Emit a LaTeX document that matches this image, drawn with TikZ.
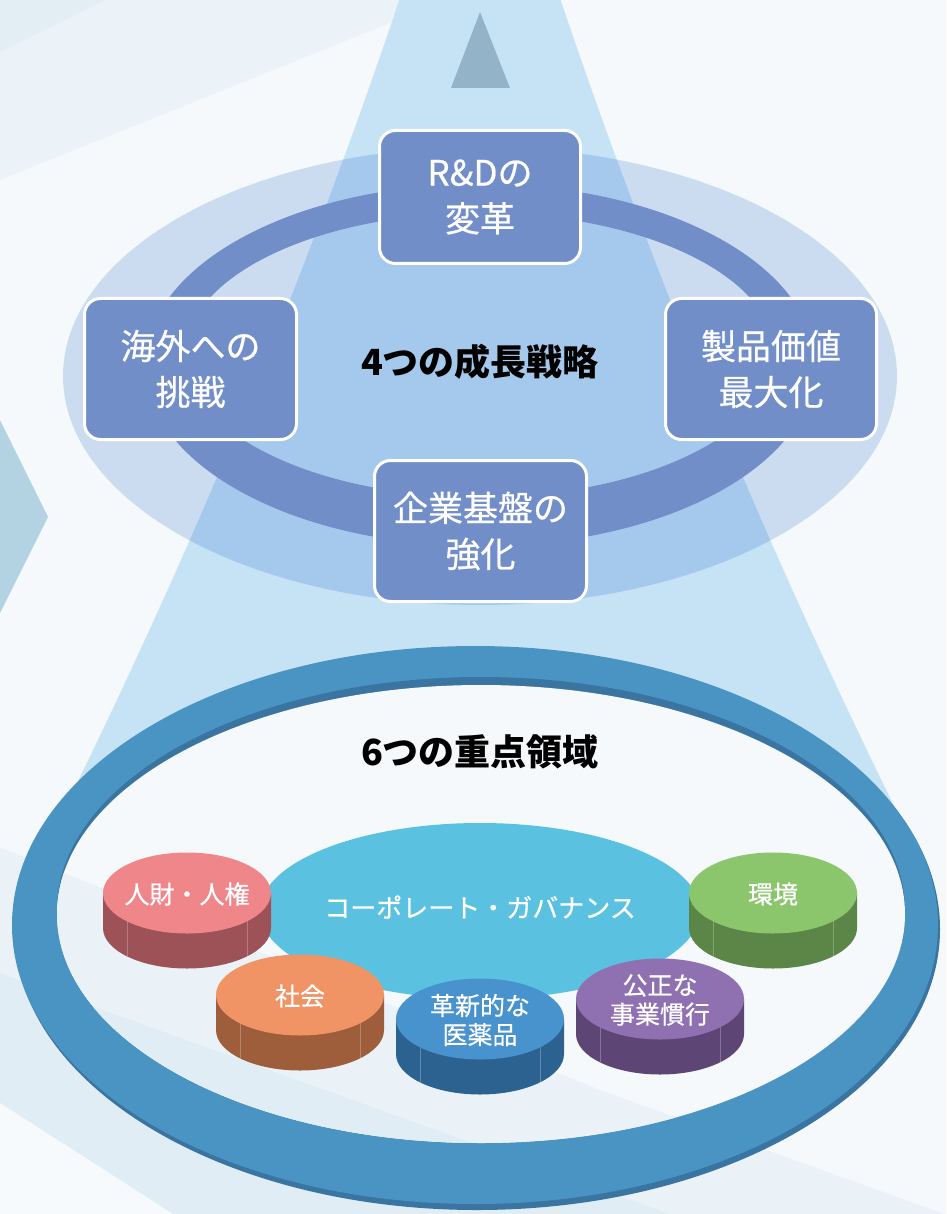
\documentclass[tikz,border=0pt]{standalone}
\usepackage{fontspec}
\setmainfont{Noto Sans CJK JP}
\newfontfamily\medjp{Noto Sans CJK JP}[FakeBold=0.6]
\definecolor{bgc}{HTML}{F5F9FC}
\definecolor{tlcorner}{HTML}{E3EEF4}
\definecolor{tlband}{HTML}{EBF3F9}
\definecolor{chev}{HTML}{B3D3E3}
\definecolor{bandone}{HTML}{EAF2F8}
\definecolor{bandtwo}{HTML}{E1EDF5}
\definecolor{bandthree}{HTML}{F6FAFD}
\definecolor{beamc}{HTML}{C6E3F6}
\definecolor{beamdark}{HTML}{A5C9EC}
\definecolor{lightell}{HTML}{CBDCF1}
\definecolor{tri}{HTML}{93B4C8}
\definecolor{boxc}{HTML}{728EC8}
\definecolor{ringb}{HTML}{4A94C4}
\definecolor{rimc}{HTML}{3A74A0}
\definecolor{cyanc}{HTML}{5BC1E0}
\definecolor{pinkt}{HTML}{EF868A}
\definecolor{pinks}{HTML}{9D5257}
\definecolor{greent}{HTML}{8CC66C}
\definecolor{greens}{HTML}{5B8648}
\definecolor{oranget}{HTML}{F09466}
\definecolor{oranges}{HTML}{9E5E3C}
\definecolor{bluet}{HTML}{4892CE}
\definecolor{blues}{HTML}{2C628F}
\definecolor{purplet}{HTML}{8F70B0}
\definecolor{purples}{HTML}{5D4675}
\newcommand\mycyl[6]{%
  \fill[#5] (#2-84,#3) -- (#2-84,#3+35) arc[start angle=180,end angle=360,x radius=84pt,y radius=40.5pt] -- (#2+84,#3) -- cycle;
  \draw[white, opacity=0.25, line width=0.6pt] (#2-60,#3+28.3) -- (#2-60,#3+63.3) (#2+60,#3+28.3) -- (#2+60,#3+63.3);
  \fill[#4] (#2,#3) ellipse [x radius=84pt, y radius=40.5pt];
  \node[cyltxt] (#1) at (#2,#3+1) {#6};
}
\begin{document}
\begin{tikzpicture}[x=1pt,y=-1pt,
  box/.style={rounded corners=16pt, draw=white, line width=3pt, fill=boxc, text=white, align=center, inner sep=0pt, font=\medjp\fontsize{35}{46}\selectfont},
  cyltxt/.style={text=white, align=center, inner sep=0pt, font=\medjp\fontsize{25}{29}\selectfont},
  titletxt/.style={text=black, inner sep=0pt, font=\fontsize{36}{40}\selectfont\bfseries},
  beampath/.style={insert path={(400,-2) .. controls (304.2,283.3) and (185.6,566.7) .. (44.1,850) -- (915.9,850) .. controls (774.4,566.7) and (655.8,283.3) .. (560,-2) -- cycle}}
]
\useasboundingbox (0,0) rectangle (946,1214);
\clip (0,0) rectangle (946,1214);
% background
\fill[bgc] (0,0) rectangle (946,1214);
\fill[tlband] (0,52) -- (105,0) -- (447,0) -- (0,180) -- cycle;
\fill[tlcorner] (0,0) -- (105,0) -- (0,52) -- cycle;
\fill[chev] (0,420) -- (48,517) -- (0,613) -- cycle;
\fill[bandone] (0,847) -- (600,1090) -- (1000,1234) -- (1000,1300) -- (0,1300) -- cycle;
\fill[bandtwo] (0,973) -- (1000,1333) -- (1000,1400) -- (0,1400) -- cycle;
\fill[bandthree] (0,1103) -- (173,1214) -- (0,1214) -- cycle;
% beam
\fill[beamc, beampath];
\fill[tri] (480,12) -- (510,88) -- (451,88) -- cycle;
% light ellipse
\fill[lightell] (480,376) ellipse [x radius=417pt, y radius=229pt];
\begin{scope}
  \clip (480,376) ellipse [x radius=417pt, y radius=229pt];
  \fill[beamdark, beampath];
\end{scope}
% upper ring
\fill[boxc, even odd rule] (480,365) ellipse [x radius=335pt, y radius=181pt] (480,355) ellipse [x radius=295pt, y radius=142pt];
% boxes
\node[box, minimum width=201pt, minimum height=133pt] (rd) at (480,197) {R\&Dの\\変革};
\node[box, minimum width=212pt, minimum height=141pt] (kaigai) at (190.5,369) {海外への\\挑戦};
\node[box, minimum width=211pt, minimum height=141pt] (seihin) at (771,369) {製品価値\\最大化};
\node[box, minimum width=212pt, minimum height=141pt] (kiban) at (480.5,531) {企業基盤の\\強化};
\node[titletxt] (four) at (480,362) {4つの成長戦略};
% big ring
\fill[rimc] (477,929) ellipse [x radius=463pt, y radius=281pt];
\fill[ringb] (475,925) ellipse [x radius=463pt, y radius=279pt];
\fill[rimc] (481,910) ellipse [x radius=424pt, y radius=233pt];
\begin{scope}
  \clip (481,914) ellipse [x radius=424pt, y radius=229pt];
  \fill[bgc] (0,600) rectangle (946,1214);
  \fill[bandone] (0,847) -- (600,1090) -- (1000,1234) -- (1000,1300) -- (0,1300) -- cycle;
  \fill[bandtwo] (0,973) -- (1000,1333) -- (1000,1400) -- (0,1400) -- cycle;
\end{scope}
\node[titletxt] (six) at (480,752) {6つの重点領域};
% centre ellipse
\fill[cyanc] (480,911) ellipse [x radius=220pt, y radius=88pt];
\node[cyltxt, font=\medjp\fontsize{26}{30}\selectfont] (gov) at (480,907) {コーポレート・ガバナンス};
% cylinders
\mycyl{jinzai}{187}{893}{pinkt}{pinks}{人財・人権}
\mycyl{kankyo}{773}{893}{greent}{greens}{環境}
\mycyl{shakai}{300}{995}{oranget}{oranges}{社会}
\mycyl{kosei}{660}{999}{purplet}{purples}{公正な\\事業慣行}
\mycyl{iyaku}{480}{1019}{bluet}{blues}{革新的な\\医薬品}
\end{tikzpicture}
\end{document}
